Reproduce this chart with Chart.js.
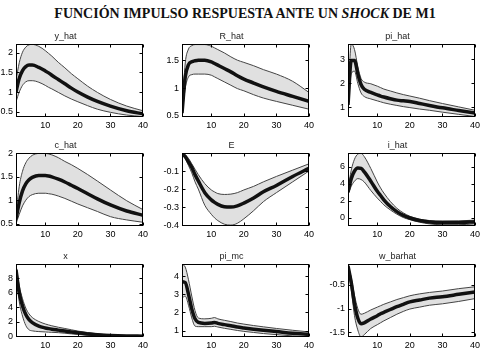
<!DOCTYPE html>
<html><head><meta charset="utf-8">
<script src="https://cdn.jsdelivr.net/npm/chart.js@4/dist/chart.umd.min.js"></script>
<style>
html,body{margin:0;padding:0;background:#fff;width:490px;height:356px;overflow:hidden;}
#title{position:absolute;left:0;top:5px;width:490px;text-align:center;font:bold 14px "Liberation Serif","DejaVu Serif",serif;color:#111;line-height:18px;white-space:nowrap;}
canvas{position:absolute;}
</style></head><body>
<div id="title">FUNCIÓN IMPULSO RESPUESTA ANTE UN <i>SHOCK</i> DE M1</div>
<script>
// horizon (periods after the shock)
const periods = [1,2,3,4,5,6,8,10,11,12,14,16,18,20,23,26,30,35,40];
const xTicks = [10,20,30,40];

const yHatMean = [1.0,1.35,1.55,1.65,1.69,1.69,1.63,1.54,1.49,1.43,1.32,1.21,1.10,1.0,0.87,0.76,0.64,0.52,0.44];
const yHatHigh = [1.3,1.75,2.02,2.15,2.21,2.22,2.17,2.06,1.99,1.92,1.76,1.62,1.47,1.34,1.15,0.99,0.81,0.64,0.52];
const yHatLow  = [0.75,1.0,1.17,1.26,1.29,1.29,1.25,1.17,1.12,1.08,0.99,0.9,0.82,0.75,0.65,0.56,0.48,0.41,0.37];
const yHatTicks = [0.5,1,1.5,2];

const rHatMean = [0.55,1.2,1.42,1.47,1.49,1.5,1.5,1.47,1.44,1.41,1.35,1.29,1.22,1.16,1.09,1.02,0.94,0.85,0.76];
const rHatHigh = [0.6,1.45,1.7,1.76,1.78,1.78,1.78,1.75,1.72,1.69,1.63,1.56,1.5,1.46,1.4,1.33,1.25,1.12,0.92];
const rHatLow  = [0.5,1.0,1.2,1.24,1.25,1.25,1.25,1.23,1.2,1.17,1.11,1.05,0.99,0.95,0.88,0.82,0.76,0.69,0.62];
const rHatTicks = [0.5,1,1.5];

const piHatMean = [1.1,2.95,2.95,2.4,1.95,1.75,1.62,1.52,1.47,1.43,1.36,1.3,1.27,1.24,1.16,1.08,0.98,0.87,0.76];
const piHatHigh = [1.3,3.63,3.4,2.7,2.2,2.05,1.98,1.88,1.82,1.76,1.68,1.6,1.53,1.47,1.38,1.28,1.16,1.02,0.88];
const piHatLow  = [0.9,2.4,2.5,2.0,1.6,1.45,1.35,1.27,1.23,1.19,1.13,1.08,1.03,0.99,0.93,0.88,0.8,0.71,0.62];
const piHatTicks = [1,2,3];

const cHatMean = [0.6,0.95,1.2,1.35,1.44,1.49,1.53,1.53,1.52,1.5,1.45,1.39,1.32,1.25,1.14,1.03,0.9,0.77,0.68];
const cHatHigh = [0.7,1.3,1.62,1.8,1.9,1.96,2.0,2.0,1.99,1.97,1.91,1.83,1.76,1.68,1.55,1.41,1.22,0.99,0.8];
const cHatLow  = [0.5,0.7,0.88,1.0,1.08,1.12,1.15,1.15,1.14,1.13,1.09,1.04,0.98,0.92,0.84,0.76,0.65,0.58,0.53];
const cHatTicks = [0.5,1,1.5,2];

const eMean = [-0.005,-0.02,-0.05,-0.08,-0.12,-0.155,-0.22,-0.26,-0.274,-0.285,-0.298,-0.3,-0.293,-0.278,-0.25,-0.215,-0.18,-0.13,-0.085];
const eHigh = [0,-0.01,-0.03,-0.06,-0.09,-0.12,-0.17,-0.205,-0.216,-0.225,-0.23,-0.228,-0.22,-0.205,-0.185,-0.16,-0.13,-0.095,-0.06];
const eLow  = [-0.01,-0.03,-0.07,-0.11,-0.16,-0.2,-0.29,-0.34,-0.36,-0.375,-0.395,-0.4,-0.39,-0.365,-0.32,-0.27,-0.22,-0.16,-0.1];
const eTicks = [-0.4,-0.3,-0.2,-0.1];

const iHatMean = [3.0,4.6,5.5,5.85,5.8,5.4,4.3,3.1,2.6,2.1,1.3,0.7,0.25,-0.05,-0.35,-0.52,-0.6,-0.6,-0.5];
const iHatHigh = [3.3,5.6,6.9,7.5,7.6,7.2,5.8,4.2,3.5,2.9,1.9,1.1,0.55,0.15,-0.2,-0.35,-0.42,-0.4,-0.3];
const iHatLow  = [2.7,3.7,4.3,4.6,4.5,4.2,3.2,2.3,1.9,1.5,0.9,0.4,0.0,-0.25,-0.55,-0.75,-0.85,-0.85,-0.75];
const iHatTicks = [0,2,4,6];

const xMean = [9.2,6.0,4.2,3.0,2.3,1.9,1.4,1.15,1.06,0.98,0.85,0.72,0.6,0.48,0.33,0.2,0.1,0.04,0.02];
const xHigh = [9.9,7.0,5.2,3.9,3.1,2.6,2.05,1.7,1.57,1.45,1.25,1.08,0.9,0.72,0.52,0.35,0.2,0.1,0.08];
const xLow  = [8.5,4.8,2.8,1.5,0.9,0.75,0.65,0.6,0.57,0.55,0.5,0.42,0.33,0.25,0.14,0.06,0.0,-0.03,-0.04];
const xVarTicks = [0,2,4,6,8];

const piMcMean = [3.7,3.65,3.0,2.2,1.65,1.45,1.4,1.42,1.45,1.4,1.33,1.27,1.2,1.15,1.08,1.02,0.95,0.86,0.8];
const piMcHigh = [4.65,4.5,3.8,2.9,2.1,1.7,1.65,1.68,1.72,1.65,1.57,1.5,1.42,1.36,1.28,1.21,1.12,1.02,0.93];
const piMcLow  = [2.8,2.9,2.4,1.7,1.25,1.22,1.22,1.22,1.24,1.2,1.13,1.07,1.01,0.96,0.9,0.84,0.78,0.71,0.66];
const piMcTicks = [1,2,3,4];

const wBarMean = [-0.1,-0.45,-0.9,-1.2,-1.32,-1.3,-1.22,-1.15,-1.11,-1.08,-1.02,-0.96,-0.91,-0.86,-0.82,-0.78,-0.75,-0.7,-0.65];
const wBarHigh = [-0.07,-0.35,-0.72,-1.0,-1.12,-1.1,-1.03,-0.97,-0.94,-0.91,-0.86,-0.81,-0.77,-0.73,-0.69,-0.66,-0.63,-0.58,-0.54];
const wBarLow  = [-0.12,-0.6,-1.15,-1.45,-1.6,-1.55,-1.42,-1.34,-1.3,-1.26,-1.19,-1.12,-1.06,-1.01,-0.97,-0.93,-0.9,-0.85,-0.79];
const wBarTicks = [-1.5,-1,-0.5];

const panels = [
  {name:'y_hat',    mean:yHatMean, high:yHatHigh, low:yHatLow, ticks:yHatTicks, min:0.36, max:2.23},
  {name:'R_hat',    mean:rHatMean, high:rHatHigh, low:rHatLow, ticks:rHatTicks, min:0.48, max:1.79},
  {name:'pi_hat',   mean:piHatMean, high:piHatHigh, low:piHatLow, ticks:piHatTicks, min:0.6, max:3.63},
  {name:'c_hat',    mean:cHatMean, high:cHatHigh, low:cHatLow, ticks:cHatTicks, min:0.45, max:2.01},
  {name:'E',        mean:eMean, high:eHigh, low:eLow, ticks:eTicks, min:-0.405, max:0.0},
  {name:'i_hat',    mean:iHatMean, high:iHatHigh, low:iHatLow, ticks:iHatTicks, min:-1.0, max:7.63},
  {name:'x',        mean:xMean, high:xHigh, low:xLow, ticks:xVarTicks, min:-0.1, max:10.0},
  {name:'pi_mc',    mean:piMcMean, high:piMcHigh, low:piMcLow, ticks:piMcTicks, min:0.65, max:4.67},
  {name:'w_barhat', mean:wBarMean, high:wBarHigh, low:wBarLow, ticks:wBarTicks, min:-1.6, max:-0.06}
];

const colLefts = [16,182,348], rowTops = [44,153,264];
const PW = 127, PH = 73, YW = 28, XH = 14, TH = 14, RP = 8;

const boxPlugin = {
  id:'box',
  afterDraw(chart){
    const {ctx, chartArea:a} = chart;
    const xs = chart.scales.x, ys = chart.scales.y;
    ctx.save();
    ctx.strokeStyle = '#000';
    ctx.lineWidth = 1;
    const L = Math.round(a.left)+0.5, R = Math.round(a.right)-0.5, T = Math.round(a.top)+0.5, B = Math.round(a.bottom)-0.5;
    ctx.strokeRect(L, T, R-L, B-T);
    ctx.beginPath();
    xs.ticks.forEach(t=>{
      const p = Math.round(xs.getPixelForValue(t.value))+0.5;
      ctx.moveTo(p,B); ctx.lineTo(p,B-3);
      ctx.moveTo(p,T); ctx.lineTo(p,T+3);
    });
    ys.ticks.forEach(t=>{
      const p = Math.round(ys.getPixelForValue(t.value))+0.5;
      ctx.moveTo(L,p); ctx.lineTo(L+3,p);
      ctx.moveTo(R,p); ctx.lineTo(R-3,p);
    });
    ctx.stroke();
    ctx.restore();
  }
};

const tickFont = {family:'"Liberation Sans", Arial, sans-serif', size:9};
const toXY = arr => arr.map((v,i)=>({x:periods[i], y:v}));

panels.forEach((p, k)=>{
  const col = k % 3, row = Math.floor(k/3);
  const c = document.createElement('canvas');
  const w = YW + PW + RP, h = TH + PH + XH;
  c.width = w; c.height = h;
  c.style.left = (colLefts[col]-YW)+'px';
  c.style.top = (rowTops[row]-TH)+'px';
  c.style.width = w+'px'; c.style.height = h+'px';
  document.body.appendChild(c);
  new Chart(c, {
    type:'line',
    data:{datasets:[
      {data:toXY(p.high), borderColor:'#444', borderWidth:1, backgroundColor:'#e0e0e0', fill:1, pointRadius:0, order:2},
      {data:toXY(p.low), borderColor:'#444', borderWidth:1, fill:false, pointRadius:0, order:1},
      {data:toXY(p.mean), borderColor:'#111', borderWidth:3.5, fill:false, pointRadius:0, order:0}
    ]},
    options:{
      responsive:false, animation:false, devicePixelRatio:1,
      layout:{padding:{top:0,right:RP,left:0,bottom:0}},
      elements:{line:{cubicInterpolationMode:'monotone'}},
      plugins:{
        legend:{display:false}, tooltip:{enabled:false},
        title:{display:true, text:p.name, color:'#222', font:{family:'"Liberation Sans", Arial, sans-serif', size:9, weight:'normal', lineHeight:1.2}, padding:{top:1.2,bottom:2}}
      },
      scales:{
        x:{type:'linear', min:1, max:40,
           grid:{display:false, drawTicks:false}, border:{display:false},
           ticks:{font:tickFont, color:'#000', padding:3, maxRotation:0, autoSkip:false},
           afterBuildTicks(s){ s.ticks = xTicks.map(v=>({value:v})); },
           afterFit(s){ s.height = XH; }},
        y:{type:'linear', min:p.min, max:p.max,
           grid:{display:false, drawTicks:false}, border:{display:false},
           ticks:{font:tickFont, color:'#000', padding:3, autoSkip:false, callback:v=>String(v)},
           afterBuildTicks(s){ s.ticks = p.ticks.map(v=>({value:v})); },
           afterFit(s){ s.width = YW; }}
      }
    },
    plugins:[boxPlugin]
  });
});
</script>
</body></html>
